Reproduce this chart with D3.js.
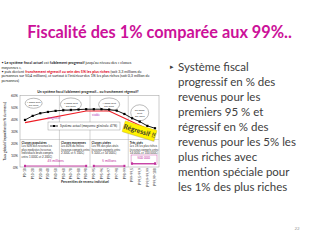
<!DOCTYPE html>
<html>
<head>
<meta charset="utf-8">
<script src="https://cdn.jsdelivr.net/npm/d3@7"></script>
<style>
  body { margin:0; background:#fff; }
  svg { display:block; font-family: Lato, "Open Sans", sans-serif; }
</style>
</head>
<body>
<div id="slide"></div>
<script>
// --- data ---
var categories = ["P0-10","P10-20","P20-30","P30-40","P40-50","P50-60","P60-70","P70-80","P80-90",
                  "P90-95","P95-96","P96-97","P97-98","P98-99","P99-99,5","P99,5-99,9","P99,9-99,99","P99,99-100"];
var tauxActuel = [39.5,42.9,45.1,46.2,47.1,47.6,47.9,48.2,48.5,48.5,48.5,48.2,47.3,44.5,40.9,38.1,34.5,32.5];
var tendanceCats = ["P0-10","P80-90","P96-97","P99,99-100"];
var tendanceVals = [37.2,47,47,29];
var yTicks = [0,10,20,30,40,50,60];

var bulletes = [
  "Système fiscal",
  "progressif en % des",
  "revenus pour les",
  "premiers 95 % et",
  "régressif en % des",
  "revenus pour les 5% les",
  "plus riches avec",
  "mention spéciale pour",
  "les 1% des plus riches"
];

var classeNoms = ["Classes populaires","Classes moyennes","Classes aisées","Très aisés"];
var classeTextes = [
  ["Les 50% des revenus les","plus modestes (revenus","individuels bruts compris","entre 1 000€ et 2 200€)"],
  ["Les 40% du milieu","(revenus compris entre","2 300€ et 5 100€)"],
  ["Les 9% des plus aisés","(revenus compris entre","5 100€ et 14 000€)"],
  ["Les 1% les plus riches","(revenus compris entre","14 000€ et 100 000€)"]
];
var classeDebut = ["P0-10","P50-60","P90-95","P99-99,5"];

var popLabels = ["45 millions","5 millions","500 000"];
var popDebut = ["P0-10","P90-95","P99-99,5"];
var popFin = ["P80-90","P98-99","P99,99-100"];

var bulleCats = ["P10-20","P60-70","P96-97","P99,5-99,9"];
var bulleVals = [53.5,52.5,52.5,45.5];
var bulleTextes = [["1 000€ brut","par mois"],["2 000€ brut","par mois"],["4 000€ brut","par mois"],["50 000€","brut","par mois"]];

var svg = d3.select("#slide").append("svg")
  .attr("width", 320).attr("height", 240);

// fit a text's font size to a target width
function fit(t, width){
  var fs = parseFloat(t.attr("font-size"));
  var l = t.node().getComputedTextLength();
  t.attr("font-size", fs*width/l);
}

// title
var title = svg.append("text")
  .attr("x", 159.5).attr("y", 32).attr("dy", "0.35em")
  .attr("text-anchor", "middle")
  .attr("font-size", 16).attr("font-weight", "bold")
  .attr("fill", "#cc1199")
  .text("Fiscalité des 1% comparée aux 99%..");
fit(title, 265);

// right bullet text
svg.append("text").attr("x", 170).attr("y", 66.7).attr("dy","0.35em")
  .attr("font-size", 7).attr("fill", "#404040").text("▸");
var rightTexts = svg.append("g").selectAll("text").data(bulletes).enter().append("text")
  .attr("x", 178).attr("y", function(d,i){ return 66.7 + i*15; }).attr("dy","0.35em")
  .attr("font-size", 12).attr("fill", "#404040")
  .text(function(d){ return d; });
var ref = rightTexts.filter(function(d){ return d=="revenus pour les 5% les"; });
var fsR = 12*118/ref.node().getComputedTextLength();
rightTexts.attr("font-size", fsR);

svg.append("text").attr("x", 297).attr("y", 228).attr("dy","0.35em")
  .attr("text-anchor","middle").attr("font-size", 4.5).attr("fill", "#999").text("22");

// left intro text (tiny)
var intro = [
  [["• ",0,0],["Le système fiscal actuel",1,0],[" est ",0,0],["faiblement progressif",1,0],[" jusqu'au niveau des « classes",0,0]],
  [["moyennes »,",0,0]],
  [["• puis devient ",0,0],["franchement régressif au sein des 5% les plus riches",1,1],[" (soit 3,3 millions de",0,0]],
  [["personnes sur 50,4 millions), et surtout à l'intérieur des 1% les plus riches (soit 0,3 million de",0,0]],
  [["personnes)",0,0]]
];
var introG = svg.append("g");
intro.forEach(function(line, i){
  var t = introG.append("text").attr("x", 1.5).attr("y", 63 + i*4.4).attr("dy","0.35em")
    .attr("font-size", 3.7).attr("fill", "#222");
  line.forEach(function(p){
    t.append("tspan").attr("font-weight", p[1] ? "bold" : "normal")
      .attr("fill", p[2] ? "#e0001a" : "#222").text(p[0]);
  });
});

// --- chart ---
var plot = {left:20, right:159, top:95.5, bottom:167};
var x = d3.scalePoint().domain(categories).range([25, 155]);
var y = d3.scaleLinear().domain([0,60]).range([plot.bottom, plot.top]);
var step = x.step();

var chart = svg.append("g");

chart.append("rect")
  .attr("x", plot.left).attr("y", plot.top)
  .attr("width", plot.right-plot.left).attr("height", plot.bottom-plot.top)
  .attr("fill", "none").attr("stroke", "#999").attr("stroke-width", 0.5);

chart.append("text").attr("x", 88).attr("y", 92).attr("dy","0.35em")
  .attr("text-anchor","middle").attr("font-size", 3.4).attr("font-weight","bold").attr("fill","#222")
  .text("Un système fiscal faiblement progressif... ou franchement régressif?");

// y axis
var yAxis = d3.axisLeft(y).tickValues(yTicks).tickSize(0).tickPadding(2)
  .tickFormat(function(d){ return d + "%"; });
var yG = chart.append("g").attr("transform", "translate(" + plot.left + ",0)").call(yAxis);
yG.select(".domain").remove();
yG.selectAll("text").attr("font-size", 3.6).attr("fill", "#333").attr("font-family", "Lato");

chart.append("text")
  .attr("transform", "translate(6," + ((plot.top+plot.bottom)/2) + ") rotate(-90)")
  .attr("text-anchor","middle").attr("font-size", 3.2).attr("font-weight","bold").attr("fill","#333")
  .text("Taux global d'imposition (en % du revenu)");

// x axis
var xAxis = d3.axisBottom(x).tickSize(0).tickPadding(2);
var xG = chart.append("g").attr("transform", "translate(0," + plot.bottom + ")").call(xAxis);
xG.select(".domain").remove();
xG.selectAll("text")
  .attr("font-size", 3.4).attr("fill", "#333").attr("font-family", "Lato")
  .style("text-anchor", "end")
  .attr("dx", "-0.3em").attr("dy", "-0.35em")
  .attr("transform", "rotate(-90)");

chart.append("text").attr("x", 85).attr("y", 182).attr("dy","0.35em")
  .attr("text-anchor","middle").attr("font-size", 3.4).attr("font-weight","bold").attr("fill","#333")
  .text("Percentiles de revenu individuel");

// class separators
var sepIdx = [4,8,13];
chart.selectAll(".sep").data(sepIdx).enter().append("line")
  .attr("x1", function(d){ return x(categories[d]) + step/2; })
  .attr("x2", function(d){ return x(categories[d]) + step/2; })
  .attr("y1", plot.top).attr("y2", plot.bottom)
  .attr("stroke", "#aaa").attr("stroke-width", 0.5);
chart.append("line").attr("x1", plot.left).attr("x2", plot.right)
  .attr("y1", 139.5).attr("y2", 139.5).attr("stroke", "#aaa").attr("stroke-width", 0.5);

// class descriptions
classeNoms.forEach(function(nom, i){
  var gx = (i==0 ? plot.left : x(classeDebut[i]) - step/2) + 1.5;
  chart.append("text").attr("x", gx).attr("y", 142.5).attr("dy","0.35em")
    .attr("font-size", 3.1).attr("font-weight","bold").attr("fill","#222").text(nom);
  chart.append("g").selectAll("text").data(classeTextes[i]).enter().append("text")
    .attr("x", gx).attr("y", function(d,j){ return 146.3 + j*3.4; }).attr("dy","0.35em")
    .attr("font-size", 2.9).attr("fill","#333").text(function(d){ return d; });
});

// population arrows
var pink = "#c2309c";
popLabels.forEach(function(lab, i){
  var x1 = x(popDebut[i]), x2 = x(popFin[i]);
  var yy = i==2 ? 163.5 : 166;
  chart.append("line").attr("x1", x1).attr("x2", x2).attr("y1", yy).attr("y2", yy)
    .attr("stroke", pink).attr("stroke-width", 0.9);
  [x1, x2].forEach(function(xx){
    chart.append("rect").attr("x", xx-1).attr("y", yy-1.2).attr("width", 2).attr("height", 2.4).attr("fill", pink);
  });
  if(i==2){
    chart.append("rect").attr("x", x1-1).attr("y", 155).attr("width", x2-x1+3).attr("height", 9.5)
      .attr("fill","none").attr("stroke", pink).attr("stroke-width", 0.4);
  }
  chart.append("text").attr("x", (x1+x2)/2).attr("y", i==2 ? 157.8 : 160.5).attr("dy","0.35em")
    .attr("text-anchor","middle").attr("font-size", 3.4).attr("fill", pink).text(lab);
});

// ellipses (bubbles)
bulleTextes.forEach(function(lines, i){
  var cx = x(bulleCats[i]) + (i==0 ? 1 : 0), cy = y(bulleVals[i]);
  var rx = i==3 ? 9 : (i==0 ? 8.5 : 10.5), ry = i==3 ? 8 : (i==0 ? 5 : 6.5);
  chart.append("ellipse").attr("cx", cx).attr("cy", cy).attr("rx", rx).attr("ry", ry)
    .attr("fill", "#fff").attr("stroke", "#777").attr("stroke-width", 0.5);
  chart.append("g").selectAll("text").data(lines).enter().append("text")
    .attr("x", cx).attr("y", function(d,j){ return cy + (j - (lines.length-1)/2)*3; }).attr("dy","0.35em")
    .attr("text-anchor","middle").attr("font-size", 2.6).attr("fill","#333").text(function(d){ return d; });
});

// red trend line
var lineR = d3.line().x(function(d){ return x(d[0]); }).y(function(d){ return y(d[1]); });
chart.append("path")
  .datum(tendanceCats.map(function(c,i){ return [c, tendanceVals[i]]; }))
  .attr("fill","none").attr("stroke","#ee1c24").attr("stroke-width", 1.2)
  .attr("d", lineR);

chart.append("text").attr("x", 54).attr("y", 117.5).attr("dy","0.35em")
  .attr("text-anchor","middle").attr("font-size", 3).attr("fill", "#b03ab8").text("progressif");
chart.append("text").attr("x", 96).attr("y", 115).attr("dy","0.35em")
  .attr("text-anchor","middle").attr("font-size", 3).attr("fill", "#b03ab8").text("stable");

// black series
var lineB = d3.line().x(function(d){ return x(d[0]); }).y(function(d){ return y(d[1]); });
var serie = categories.map(function(c,i){ return [c, tauxActuel[i]]; });
chart.append("path").datum(serie)
  .attr("fill","none").attr("stroke","#000").attr("stroke-width", 0.9).attr("d", lineB);
chart.selectAll(".pt").data(serie).enter().append("rect")
  .attr("x", function(d){ return x(d[0]) - 1.1; })
  .attr("y", function(d){ return y(d[1]) - 1.1; })
  .attr("width", 2.2).attr("height", 2.2).attr("fill", "#000");

// legend
var lg = chart.append("g").attr("transform", "translate(48,122)");
lg.append("rect").attr("width", 72).attr("height", 8).attr("fill","#fff").attr("stroke","#888").attr("stroke-width",0.4);
lg.append("line").attr("x1", 2).attr("x2", 10).attr("y1", 4).attr("y2", 4).attr("stroke","#000").attr("stroke-width",0.8);
lg.append("rect").attr("x", 5).attr("y", 3).attr("width", 2).attr("height", 2).attr("fill","#000");
lg.append("text").attr("x", 12).attr("y", 4).attr("dy","0.35em").attr("font-size", 3.2).attr("fill","#222")
  .text("Système actuel (moyenne générale: 47%)");

// "Régressif !!" sticker
var st = chart.append("g").attr("transform", "translate(139.5,131) rotate(17)");
st.append("rect").attr("x", -15.8).attr("y", -4.8).attr("width", 33).attr("height", 11)
  .attr("fill", "#bbb").attr("opacity", 0.6);
st.append("rect").attr("x", -16.5).attr("y", -5.5).attr("width", 33).attr("height", 11)
  .attr("fill", "#fff200").attr("stroke", "#d8c400").attr("stroke-width", 0.4);
st.append("text").attr("x", 0).attr("y", 0).attr("dy","0.35em").attr("text-anchor","middle")
  .attr("font-size", 6.8).attr("font-weight","bold").attr("fill","#333").text("Régressif !!");
</script>
</body>
</html>
